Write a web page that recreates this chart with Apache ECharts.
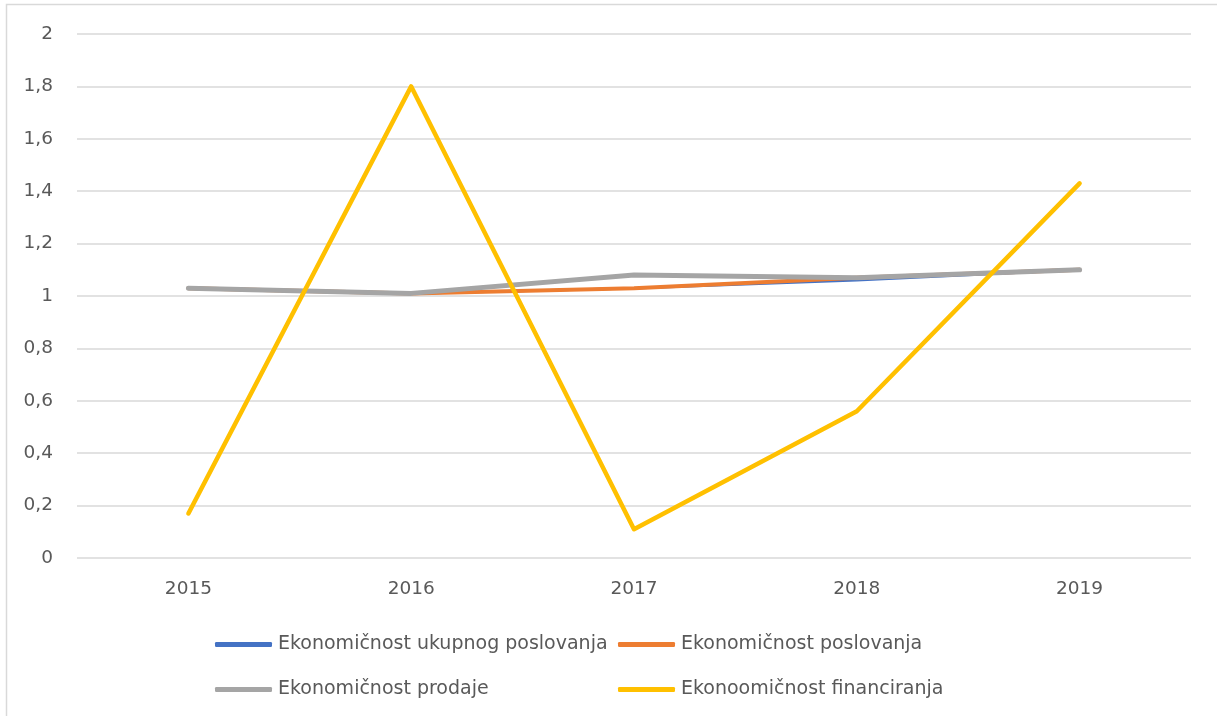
<!DOCTYPE html>
<html>
<head>
<meta charset="utf-8">
<script src="https://cdn.jsdelivr.net/npm/echarts@6/dist/echarts.min.js"></script>
<style>
html,body{margin:0;padding:0;background:#fff;}
#c{width:1217px;height:716px;}
</style>
</head>
<body>
<div id="c"></div>
<script>
const categories = ['2015', '2016', '2017', '2018', '2019'];
const seriesNames = ['Ekonomičnost ukupnog poslovanja', 'Ekonomičnost poslovanja', 'Ekonomičnost prodaje', 'Ekonoomičnost financiranja'];
const ukupnogPoslovanja = [1.03, 1.01, 1.03, 1.06, 1.10];
const poslovanja = [1.03, 1.01, 1.03, 1.07, 1.10];
const prodaje = [1.03, 1.01, 1.08, 1.07, 1.10];
const financiranja = [0.17, 1.80, 0.11, 0.56, 1.43];
const yTicks = [0, 0.2, 0.4, 0.6, 0.8, 1, 1.2, 1.4, 1.6, 1.8, 2];

const colors = ['#4472C4', '#ED7D31', '#A5A5A5', '#FFC000'];
const widths = [2.5, 4, 5, 4.5];
const values = [ukupnogPoslovanja, poslovanja, prodaje, financiranja];
const FONT = 'DejaVu Sans';
const TXT = '#595959';

const chart = echarts.init(document.getElementById('c'), null, {renderer: 'canvas'});
const legendPos = [
  {left: 215, top: 635},
  {left: 618, top: 635},
  {left: 215, top: 680},
  {left: 618, top: 680}
];
chart.setOption({
  animation: false,
  graphic: [{
    type: 'rect', silent: true,
    shape: {x: 6.5, y: 4.5, width: 1400, height: 900},
    style: {fill: 'none', stroke: '#d9d9d9', lineWidth: 1.5}
  }],
  grid: {left: 77, right: 26, top: 34, bottom: 158},
  legend: seriesNames.map((n, i) => ({
    data: [n], padding: 0,
    left: legendPos[i].left, top: legendPos[i].top,
    icon: 'roundRect', itemWidth: 57, itemHeight: 5, itemGap: 4,
    textStyle: {fontFamily: FONT, fontSize: 19, color: TXT, padding: [0,0,0,1]},
    selectedMode: false
  })),
  xAxis: {
    type: 'category', data: categories, boundaryGap: true,
    axisLine: {show: false}, axisTick: {show: false},
    axisLabel: {fontFamily: FONT, fontSize: 18.5, color: TXT, margin: 22}
  },
  yAxis: {
    type: 'value', min: 0, max: 2, interval: 0.2,
    axisLine: {show: false}, axisTick: {show: false},
    splitLine: {lineStyle: {color: '#d9d9d9', width: 1.5}},
    axisLabel: {fontFamily: FONT, fontSize: 18.5, color: TXT, margin: 24,
      formatter: v => { const t = yTicks.find(x => Math.abs(x - v) < 1e-9); return String(+(t ?? v).toFixed(1)).replace('.', ','); }}
  },
  series: seriesNames.map((n, i) => ({
    name: n, type: 'line', data: values[i],
    showSymbol: false, symbol: 'none', z: 2 + i,
    itemStyle: {color: colors[i]},
    lineStyle: {color: colors[i], width: widths[i], cap: 'round', join: 'round'}
  }))
});
</script>
</body>
</html>
